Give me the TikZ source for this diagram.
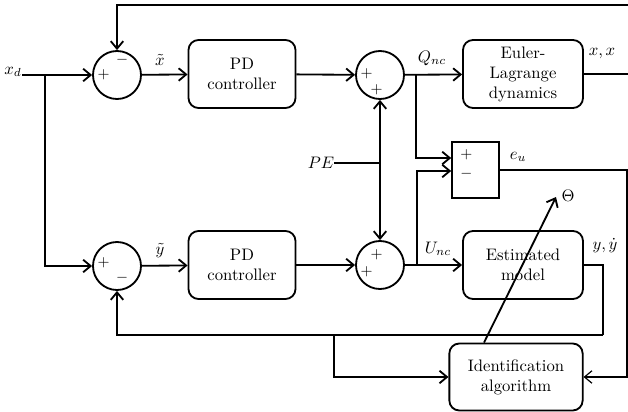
\documentclass[tikz,border=0pt]{standalone}
\usepackage{amsmath,amssymb}
\usepackage{tikz}
\usetikzlibrary{positioning,arrows.meta}

\begin{document}
\begin{tikzpicture}[
      x=0.6pt, y=-0.6pt,
      font=\normalsize,
      blk/.style={rounded corners=6pt, draw, line width=1.1pt,
                  minimum height=40.8pt, minimum width=64.2pt,
                  align=center, inner sep=1pt},
      sumc/.style={circle, draw, line width=1.1pt, minimum size=28.8pt,
                   inner sep=0pt},
      sgn/.style={font=\small, inner sep=0pt},
      lbl/.style={inner sep=0pt},
      fl/.style={-{Straight Barb[length=4.5pt,width=7.5pt]}, line width=1.1pt},
      ln/.style={line width=1.1pt},
    ]
    \useasboundingbox (0,0) rectangle (628,412);

    % summing junctions
    \node[sumc] (s1) at (117,75)  {};
    \node[sumc] (s2) at (380,75)  {};
    \node[sumc] (s3) at (117,266) {};
    \node[sumc] (s4) at (380,265) {};

    % blocks
    \node[blk] (pd1) at (242,74)  {PD\\controller};
    \node[blk] (pd2) at (242,265) {PD\\controller};
    \node[blk, minimum width=72pt] (el) at (523,74) {Euler-\\Lagrange\\dynamics};
    \node[blk, minimum width=72pt] (em) at (523,265) {Estimated\\model};
    \node[blk, minimum width=80pt, minimum height=40.2pt] (id) at (516,377)
          {Identification\\algorithm};
    \node[draw, line width=1pt, minimum width=28.2pt, minimum height=33.6pt]
          (diff) at (475.5,170) {};

    % signs
    \node[sgn] at ([xshift=-8pt]s1.center) {$+$};
    \node[sgn] at ([xshift=3pt,yshift=9pt]s1.center) {$-$};
    \node[sgn] at ([xshift=-8pt,yshift=1pt]s2.center) {$+$};
    \node[sgn] at ([xshift=-2pt,yshift=-9pt]s2.center) {$+$};
    \node[sgn] at ([xshift=-8pt,yshift=2pt]s3.center) {$+$};
    \node[sgn] at ([xshift=3pt,yshift=-7pt]s3.center) {$-$};
    \node[sgn] at ([xshift=-2pt,yshift=6pt]s4.center) {$+$};
    \node[sgn] at ([xshift=-8pt,yshift=-4pt]s4.center) {$+$};
    \node[sgn] at ([xshift=-5.5pt,yshift=9pt]diff.center) {$+$};
    \node[sgn] at ([xshift=-5.5pt,yshift=-2pt]diff.center) {$-$};

    % labels
    \node[lbl] (xdl) at (13,72)  {$x_d$};
    \node[lbl] (xt)  at (160,60) {$\tilde{x}$};
    \node[lbl] (yt)  at (160,251) {$\tilde{y}$};
    \node[lbl] (qnc) at (432,58) {$Q_{nc}$};
    \node[lbl] (unc) at (438,249) {$U_{nc}$};
    \node[lbl] (xx)  at (602,54) {$x, x$};
    \node[lbl] (yy)  at (605,246) {$y, \dot{y}$};
    \node[lbl] (eu)  at (518,157) {$e_u$};
    \node[lbl] (pe)  at (321,163) {$PE$};
    \node[lbl] (th)  at (568,196) {$\Theta$};

    % coordinates
    \coordinate (xd)  at (22,75);
    \coordinate (j1)  at (45,75);
    \coordinate (fbR) at (628,5);
    \coordinate (elR) at (628,74);
    \coordinate (qb)  at (416,75);
    \coordinate (ub)  at (417,265);
    \coordinate (pej) at (380,163);
    \coordinate (yo)  at (603,335);
    \coordinate (ib)  at (334,335);
    \coordinate (euR) at (627,377);
    \coordinate (tht) at (556,197);

    % upper loop
    \draw[ln] (xd) -- (j1);
    \draw[fl] (j1) -- (s1);
    \draw[fl] (fbR) -| (s1);
    \draw[fl] (s1) -- (pd1);
    \draw[fl] (pd1) -- (s2);
    \draw[fl] (s2) -- (el);
    \draw[ln] (el) -- (elR);

    % lower loop
    \draw[fl] (j1) |- (s3);
    \draw[fl] (s3) -- (pd2);
    \draw[fl] (pd2) -- (s4);
    \draw[fl] (s4) -- (em);
    \draw[ln] (em) -| (yo);
    \draw[fl] (yo) -| (s3);
    \draw[fl] (ib) |- (id);

    % excitation
    \draw[ln] (pe) -- (pej);
    \draw[fl] (pej) -- (s2);
    \draw[fl] (pej) -- (s4);

    % error path
    \draw[fl] (qb) |- ([yshift=7.2pt]diff.west);
    \draw[fl] (ub) |- ([yshift=-0.6pt]diff.west);
    \draw[fl, line width=0.7pt] (diff) -| (euR) -- (id);
    \draw[fl] ([xshift=-19.2pt]id.north) -- (tht);

  \end{tikzpicture}
\end{document}
